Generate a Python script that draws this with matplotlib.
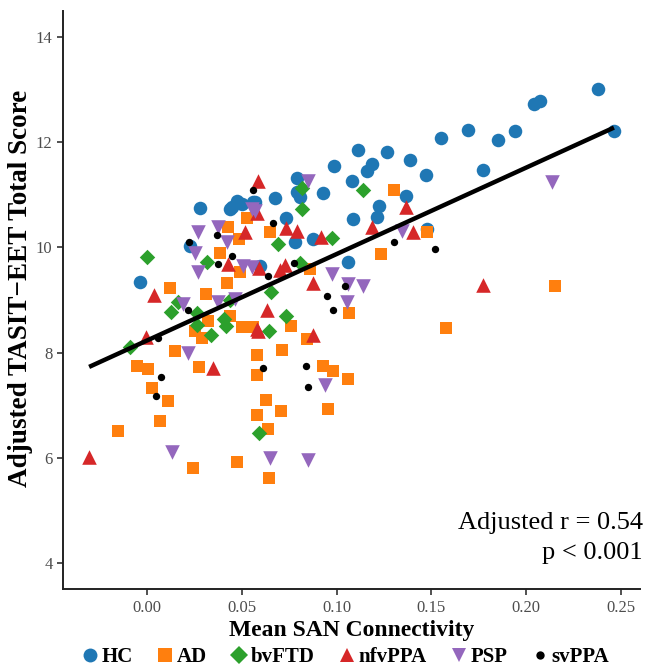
import numpy as np
import matplotlib
matplotlib.use("Agg")
import matplotlib.pyplot as plt
from matplotlib.lines import Line2D

plt.rcParams['font.family'] = ['Liberation Serif', 'DejaVu Serif']

hc_x = [-0.0037, 0.0279, 0.0437, 0.0474, 0.0500, 0.0558, 0.0226, 0.0568, 0.0674, 0.0732,
        0.0789, 0.0789, 0.0805, 0.0926, 0.0874, 0.0779, 0.0989, 0.1111, 0.1268, 0.1189,
        0.1158, 0.1084, 0.1389, 0.1474, 0.1553, 0.1368, 0.1226, 0.1211, 0.1089, 0.1479,
        0.1058, 0.1695, 0.1853, 0.1942, 0.2042, 0.2074, 0.2379, 0.2463, 0.1774, 0.0595,
        0.0447]
hc_y = [9.35, 10.74, 10.72, 10.88, 10.82, 10.86, 10.02, 10.86, 10.93, 10.55,
        11.31, 11.05, 10.95, 11.03, 10.15, 10.10, 11.54, 11.85, 11.81, 11.58,
        11.45, 11.26, 11.66, 11.37, 12.08, 10.97, 10.78, 10.57, 10.53, 10.34,
        9.73, 12.23, 12.04, 12.21, 12.72, 12.78, 13.01, 12.21, 11.47, 9.64,
        10.76]

ad_x = [0.0121, 0.0311, 0.0147, -0.0053, 0.0005, 0.0274, 0.0026, 0.0111, 0.0068, -0.0153,
        0.0242, 0.0474, 0.0321, 0.0253, 0.0289, 0.0421, 0.0489, 0.0500, 0.0558, 0.0579,
        0.0579, 0.0579, 0.0437, 0.0426, 0.0484, 0.0384, 0.0526, 0.0647, 0.1305, 0.1237,
        0.1479, 0.0858, 0.0758, 0.0842, 0.0711, 0.0926, 0.0979, 0.1058, 0.1068, 0.0626,
        0.0705, 0.0637, 0.0953, 0.0642, 0.1579, 0.2153]
ad_y = [9.22, 9.12, 8.02, 7.75, 7.68, 7.73, 7.33, 7.07, 6.69, 6.51,
        5.81, 5.92, 8.59, 8.40, 8.27, 9.33, 9.54, 8.48, 8.48, 7.96,
        7.58, 6.82, 8.69, 10.38, 10.15, 9.89, 10.55, 10.29, 11.09, 9.87,
        10.30, 9.58, 8.50, 8.25, 8.04, 7.75, 7.64, 7.49, 8.76, 7.10,
        6.88, 6.55, 6.93, 5.62, 8.46, 9.26]

bv_x = [0.0000, 0.0316, 0.0126, 0.0163, 0.0263, 0.0263, 0.0337, 0.0405, 0.0416, -0.0089,
        0.0589, 0.0437, 0.0816, 0.0816, 0.0689, 0.0974, 0.0805, 0.1142, 0.0653, 0.0732,
        0.0642]
bv_y = [9.81, 9.73, 8.78, 8.97, 8.76, 8.53, 8.34, 8.63, 8.50, 8.11,
        6.46, 8.99, 11.12, 10.72, 10.06, 10.17, 9.71, 11.09, 9.16, 8.70,
        8.40]

nf_x = [0.0584, 0.0579, 0.0516, 0.0426, 0.0589, 0.0732, 0.0789, 0.0916, 0.1189, 0.1368,
        0.1405, 0.0726, 0.1774, -0.0305, 0.0037, -0.0005, 0.0347, 0.0579, 0.0874, 0.0632,
        0.0584, 0.0874, 0.0700]
nf_y = [11.26, 10.65, 10.30, 9.68, 9.60, 10.36, 10.32, 10.19, 10.38, 10.76,
        10.30, 9.66, 9.28, 6.02, 9.09, 8.30, 7.71, 8.44, 9.33, 8.80,
        8.40, 8.34, 9.56]

psp_x = [0.0268, 0.0374, 0.0421, 0.0253, 0.0268, 0.0553, 0.0505, 0.0553, 0.0847, 0.1347,
         0.0974, 0.0568, 0.0189, 0.0374, 0.0463, 0.0216, 0.0132, 0.1058, 0.1137, 0.1053,
         0.0937, 0.0647, 0.0847, 0.2137]
psp_y = [10.30, 10.38, 10.11, 9.90, 9.54, 10.72, 9.64, 9.62, 11.26, 10.32,
         9.50, 10.69, 8.93, 8.97, 9.01, 8.00, 6.11, 9.30, 9.26, 8.97,
         7.39, 6.00, 5.96, 11.24]

sv_x = [0.0558, 0.0368, 0.0221, 0.0374, 0.0447, 0.0663, 0.0774, 0.1305, 0.1521, 0.0637,
        0.0216, 0.0058, 0.0074, 0.0047, 0.0947, 0.0979, 0.1042, 0.0611, 0.0837, 0.0847]
sv_y = [11.09, 10.23, 10.11, 9.68, 9.83, 10.46, 9.70, 10.11, 9.96, 9.45,
        8.80, 8.27, 7.54, 7.18, 9.07, 8.80, 9.26, 7.71, 7.75, 7.35]

groups = ["HC", "AD", "bvFTD", "nfvPPA", "PSP", "svPPA"]
colors = ["#1f77b4", "#ff7f0e", "#2ca02c", "#d62728", "#9467bd", "#000000"]
markers = ["o", "s", "D", "^", "v", "o"]
sizes = [95, 75, 62, 110, 110, 28]
xs = [hc_x, ad_x, bv_x, nf_x, psp_x, sv_x]
ys = [hc_y, ad_y, bv_y, nf_y, psp_y, sv_y]

fig = plt.figure(figsize=(6.49, 6.71), dpi=100)
ax = fig.add_axes([0.097, 0.122, 0.889, 0.862])

for g, c, m, s, x, y in zip(groups, colors, markers, sizes, xs, ys):
    ax.scatter(x, y, s=s, c=c, marker=m, linewidths=0, zorder=2)

all_x = np.concatenate([np.array(v) for v in xs])
all_y = np.concatenate([np.array(v) for v in ys])
slope, intercept = np.polyfit(all_x, all_y, 1)
lx = np.array([all_x.min(), all_x.max()])
ax.plot(lx, intercept + slope * lx, color="black", lw=3.2, zorder=3, solid_capstyle="butt")

ax.set_xlim(-0.0443, 0.260)
ax.set_ylim(3.5, 14.5)
ax.set_xticks([0.00, 0.05, 0.10, 0.15, 0.20, 0.25])
ax.set_xticklabels(["0.00", "0.05", "0.10", "0.15", "0.20", "0.25"])
ax.set_yticks([4, 6, 8, 10, 12, 14])
ax.tick_params(axis="both", direction="out", length=4, width=1.2, colors="#333333",
               labelsize=12, labelcolor="#4D4D4D")
for sp in ["top", "right"]:
    ax.spines[sp].set_visible(False)
for sp in ["left", "bottom"]:
    ax.spines[sp].set_linewidth(1.4)
    ax.spines[sp].set_color("#222222")

ax.set_xlabel("Mean SAN Connectivity", fontsize=17, fontweight="bold", labelpad=3)
ax.set_ylabel("Adjusted TASIT\u2212EET Total Score", fontsize=19.5, fontweight="bold",
              va="center")
ax.yaxis.set_label_coords(-0.073, 0.52)

ax.text(1.005, 0.114, "Adjusted r = 0.54", transform=ax.transAxes, ha="right", va="center",
        fontsize=19)
ax.text(1.005, 0.062, "p < 0.001", transform=ax.transAxes, ha="right", va="center",
        fontsize=19)

handles = [Line2D([0], [0], marker=m, color="none", markerfacecolor=c, markeredgewidth=0,
                  markersize=(10 if g != "svPPA" else 6) if m != "D" else 9, label=g)
           for g, c, m in zip(groups, colors, markers)]
fig.legend(handles=handles, loc="lower center", bbox_to_anchor=(0.53, -0.022), ncol=6,
           frameon=False, prop={"weight": "bold", "size": 15}, handletextpad=0.0,
           columnspacing=1.0, handlelength=1.1)

fig.savefig("out.png", dpi=100)
